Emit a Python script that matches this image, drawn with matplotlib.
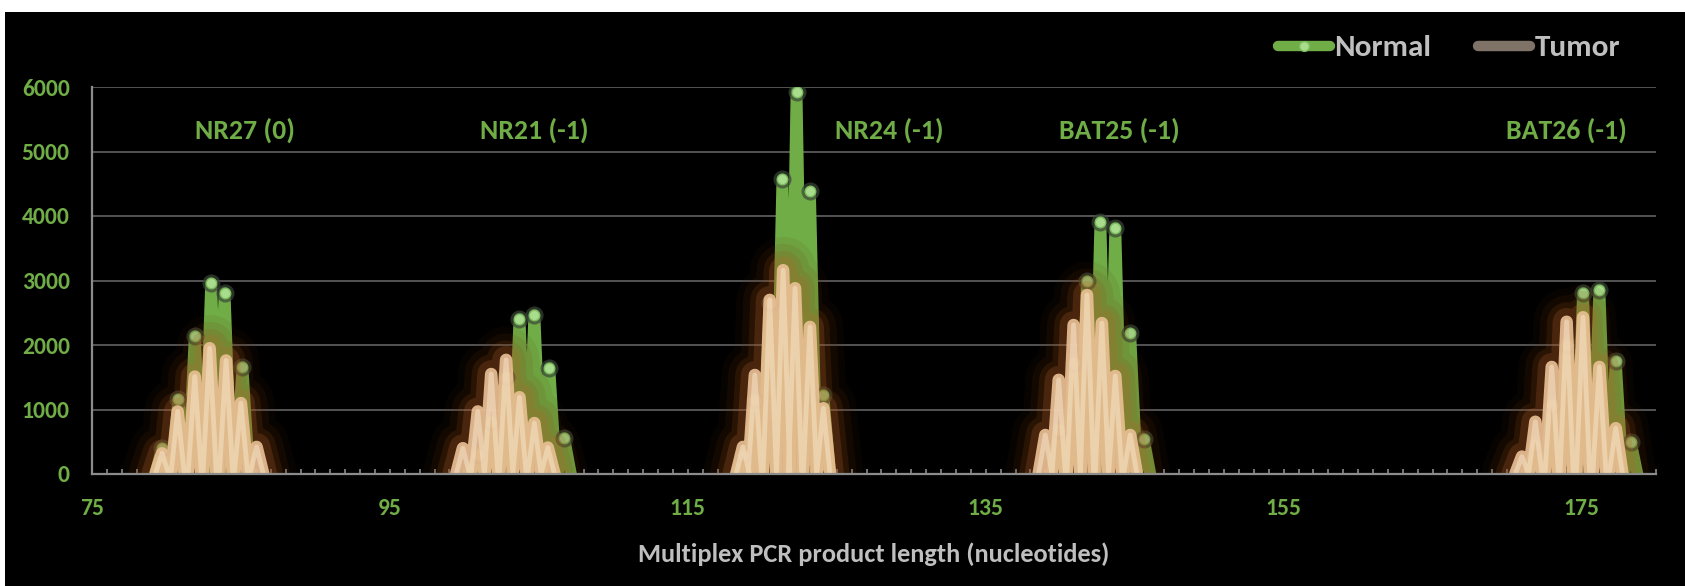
import matplotlib
matplotlib.use('Agg')
import matplotlib.pyplot as plt
import matplotlib.patheffects as pe
from matplotlib.lines import Line2D
from matplotlib.patches import Rectangle
from matplotlib.ticker import MultipleLocator

plt.rcParams['font.family'] = ['Carlito', 'DejaVu Sans']
plt.rcParams['font.weight'] = 'bold'

# loci and their MSI shift labels
loci = ['NR27 (0)', 'NR21 (-1)', 'NR24 (-1)', 'BAT25 (-1)', 'BAT26 (-1)']
locus_center = [85.3, 104.7, 128.5, 144.0, 174.0]

# peak sizes (nt) and heights (RFU), one list per locus
normal_size = [
    [79.7, 80.8, 81.9, 83.0, 83.9, 85.1],
    [100.9, 101.8, 102.8, 103.7, 104.7, 105.7, 106.7],
    [118.7, 119.5, 120.5, 121.35, 122.3, 123.2, 124.1],
    [139.9, 140.9, 141.8, 142.7, 143.7, 144.7, 145.6],
    [171.9, 173.0, 174.0, 175.1, 176.2, 177.3, 178.3],
]
normal_rfu = [
    [400, 1160, 2140, 2960, 2810, 1660],
    [300, 810, 1500, 2410, 2470, 1650, 560],
    [300, 1150, 2650, 4570, 5930, 4380, 1225],
    [680, 1720, 2990, 3910, 3820, 2180, 550],
    [450, 1070, 2000, 2810, 2860, 1750, 500],
]
tumor_size = [
    [79.7, 80.75, 81.9, 82.9, 84.0, 85.0, 86.05],
    [99.9, 100.9, 101.8, 102.8, 103.7, 104.7, 105.6],
    [118.7, 119.5, 120.5, 121.4, 122.2, 123.2, 124.1],
    [139.0, 139.9, 140.9, 141.8, 142.8, 143.7, 144.7],
    [171.0, 171.9, 173.0, 174.0, 175.1, 176.2, 177.3],
]
tumor_rfu = [
    [320, 970, 1510, 1950, 1760, 1100, 420],
    [400, 970, 1550, 1770, 1190, 790, 410],
    [420, 1535, 2700, 3160, 2880, 2280, 1020],
    [605, 1460, 2310, 2775, 2340, 1520, 605],
    [270, 810, 1660, 2360, 2430, 1660, 710],
]
x_ticks = [75, 95, 115, 135, 155, 175]

GREEN = '#70AD47'
GREY_TXT = '#BFBFBF'


def spikes(sizes, heights, half=0.45):
    # each peak drawn as a narrow spike back down to the baseline
    xs, ys = [], []
    for s, h in zip(sizes, heights):
        xs += [s - half, s, s + half]
        ys += [0, h, 0]
    return xs, ys


fig = plt.figure(figsize=(16.85, 5.86), dpi=100, facecolor='white')
fig.patches.append(Rectangle((5 / 1685, 0), 1, (586 - 12) / 586,
                             transform=fig.transFigure, facecolor='black',
                             edgecolor='none', zorder=-10))
ax = fig.add_axes([92 / 1685, 112 / 586, (1656 - 92) / 1685, (474 - 87) / 586])
ax.set_facecolor('black')

glow = [
    pe.Stroke(linewidth=48, foreground='#5a2a06', alpha=0.08),
    pe.Stroke(linewidth=38, foreground='#7a3a0c', alpha=0.12),
    pe.Stroke(linewidth=28, foreground='#9a4e15', alpha=0.16),
    pe.Stroke(linewidth=20, foreground='#b8662a', alpha=0.22),
    pe.Normal(),
]

for i in range(len(loci)):
    nx, ny = spikes(normal_size[i], normal_rfu[i])
    ax.plot(nx, ny, color=GREEN, lw=8.5, solid_joinstyle='round',
            solid_capstyle='round', zorder=2)
    ax.plot(normal_size[i], normal_rfu[i], 'o', ms=13, mfc='#3a4636',
            mec='none', alpha=0.7, zorder=2.1)
    ax.plot(normal_size[i], normal_rfu[i], 'o', ms=7.5, mfc='#a9dc8c',
            mec='#7fbf62', mew=1, zorder=2.2)

    tx, ty = spikes(tumor_size[i], tumor_rfu[i])
    ax.plot(tx, ty, color='#ebc196', lw=9, alpha=0.9,
            solid_joinstyle='round', solid_capstyle='round', zorder=3,
            path_effects=glow)
    ax.plot(tx, ty, color='#f8e8d0', lw=3.5, alpha=0.5,
            solid_joinstyle='round', solid_capstyle='round', zorder=3.1)

    ax.text(locus_center[i], 5330, loci[i], color=GREEN, fontsize=20,
            fontweight='bold', ha='center', va='center')

ax.set_xlim(75, 180)
ax.set_ylim(0, 6000)
ax.set_xticks(x_ticks)
ax.xaxis.set_minor_locator(MultipleLocator(1))
ax.yaxis.set_major_locator(MultipleLocator(1000))
ax.grid(axis='y', color='#5a5a5a', lw=1.3, zorder=0)
ax.set_axisbelow(True)

for side in ['top', 'right']:
    ax.spines[side].set_visible(False)
for side in ['left', 'bottom']:
    ax.spines[side].set_color('#8c8c8c')
    ax.spines[side].set_linewidth(1.6)
    ax.spines[side].set_zorder(4)

ax.tick_params(axis='x', which='both', direction='in', length=3.5,
               color='#8c8c8c', width=1.2, pad=17, labelsize=17,
               labelcolor=GREEN)
ax.tick_params(axis='y', length=0, pad=16, labelsize=17, labelcolor=GREEN)

ax.set_xlabel('Multiplex PCR product length (nucleotides)', color=GREY_TXT,
              fontsize=19, fontweight='bold', labelpad=17)

handles = [
    Line2D([], [], color=GREEN, lw=7.5, solid_capstyle='round', marker='o',
           ms=7, mfc='#a9dc8c', mec='#7fbf62'),
    Line2D([], [], color='#7f7266', lw=7.5, solid_capstyle='round'),
]
leg = fig.legend(handles, ['Normal', 'Tumor'], loc='center left',
                 bbox_to_anchor=(1250 / 1685, 1 - 48 / 586), ncol=2,
                 frameon=False, handlelength=1.65, handletextpad=0.15,
                 columnspacing=1.5, prop={'weight': 'bold', 'size': 22.5})
for t in leg.get_texts():
    t.set_color(GREY_TXT)

fig.savefig('out.png', dpi=100, facecolor=fig.get_facecolor())
